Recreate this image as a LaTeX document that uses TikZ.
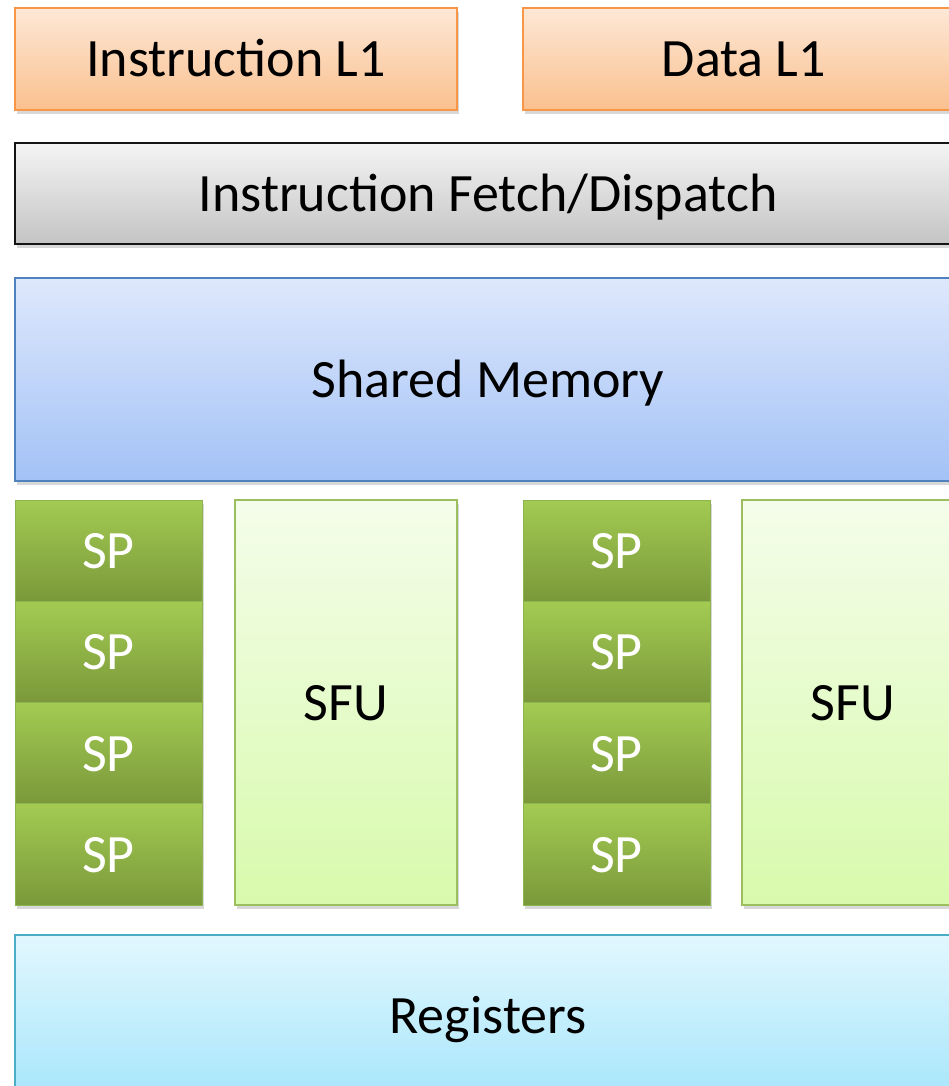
\documentclass[tikz,border=0pt]{standalone}
\usepackage{fontspec}
\setmainfont{Carlito}
\usetikzlibrary{positioning, shadows}

\definecolor{orangeedge}{RGB}{247,150,70}
\definecolor{orangetop}{RGB}{253,232,214}
\definecolor{orangebot}{RGB}{250,192,143}
\definecolor{grayedge}{RGB}{20,20,20}
\definecolor{graytop}{RGB}{244,244,244}
\definecolor{graybot}{RGB}{196,196,196}
\definecolor{blueedge}{RGB}{79,129,189}
\definecolor{bluetop}{RGB}{222,232,252}
\definecolor{bluebot}{RGB}{163,194,246}
\definecolor{spedge}{RGB}{140,180,80}
\definecolor{sptop}{RGB}{163,203,82}
\definecolor{spbot}{RGB}{122,152,58}
\definecolor{sfuedge}{RGB}{155,190,95}
\definecolor{sfutop}{RGB}{244,253,234}
\definecolor{sfubot}{RGB}{216,250,172}
\definecolor{regedge}{RGB}{75,172,198}
\definecolor{regtop}{RGB}{226,247,254}
\definecolor{regbot}{RGB}{168,230,251}

\begin{document}
\begin{tikzpicture}[
    x=1pt, y=-1pt,
    blk/.style={draw, line width=1.5pt, inner sep=0pt, outer sep=0pt,
                anchor=north west, font=\fontsize{54}{62}\selectfont,
                text height=40pt, text depth=4pt,
                drop shadow={shadow xshift=1.5pt, shadow yshift=-4pt,
                             opacity=0.3}},
    cache/.style={blk, draw=orangeedge, top color=orangetop,
                  bottom color=orangebot, minimum width=442pt,
                  minimum height=102pt},
    fetch/.style={blk, draw=grayedge, top color=graytop,
                  bottom color=graybot, minimum width=946pt,
                  minimum height=101pt},
    shmem/.style={blk, draw=blueedge, top color=bluetop,
                  bottom color=bluebot, minimum width=946pt,
                  minimum height=203pt},
    spcell/.style={blk, draw=spedge, line width=1pt, top color=sptop,
                   bottom color=spbot, text=white, minimum width=187pt,
                   minimum height=101.25pt},
    sfu/.style={blk, draw=sfuedge, top color=sfutop, bottom color=sfubot,
                minimum width=222pt, minimum height=405pt},
    regs/.style={blk, draw=regedge, top color=regtop, bottom color=regbot,
                 minimum width=946pt, minimum height=160pt}
  ]
  \clip (0,0) rectangle (949,1086);
  \fill[white] (0,0) rectangle (949,1086);

  % caches and fetch unit
  \node[cache] (il1) at (15,8) {Instruction L1};
  \node[cache, right=66pt of il1] (dl1) {Data L1};
  \node[fetch, below=33pt of il1.south west, anchor=north west] (fetch)
    {Instruction Fetch/Dispatch};
  \node[shmem, below=34pt of fetch.south west, anchor=north west] (shm)
    {Shared Memory};

  % left cluster
  \node[spcell, below=19pt of shm.south west, anchor=north west] (spa1) {SP};
  \foreach \i [count=\j from 2] in {1,2,3}
    \node[spcell, below=0pt of spa\i] (spa\j) {SP};
  \node[sfu, right=33pt of spa1.north east, anchor=north west] (sfua) {SFU};

  % right cluster
  \node[spcell, right=66pt of sfua.north east, anchor=north west] (spb1) {SP};
  \foreach \i [count=\j from 2] in {1,2,3}
    \node[spcell, below=0pt of spb\i] (spb\j) {SP};
  \node[sfu, right=32pt of spb1.north east, anchor=north west] (sfub) {SFU};

  \node[regs, below=30pt of spa4.south west, anchor=north west] (regs)
    {Registers};
\end{tikzpicture}
\end{document}
